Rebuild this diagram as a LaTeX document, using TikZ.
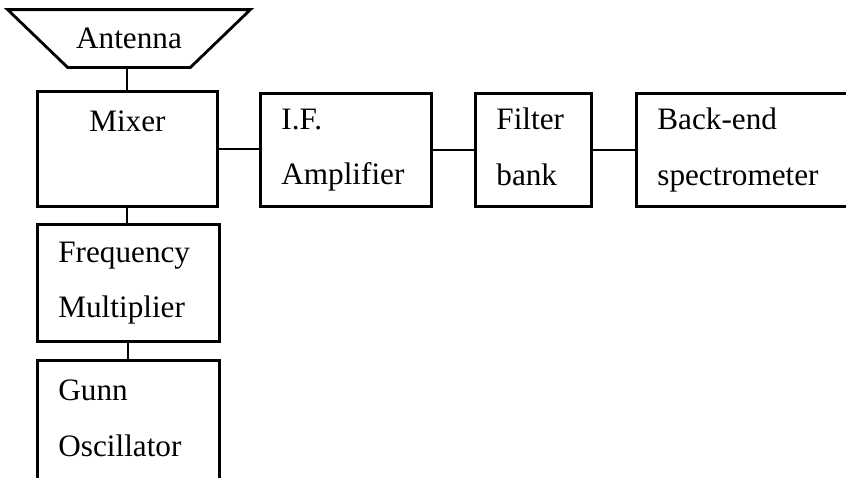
\documentclass[tikz,border=0pt]{standalone}
\usepackage{fontspec}
\setmainfont{Liberation Serif}

\newcommand{\lowfix}{\vphantom{p}}

\begin{document}
\begin{tikzpicture}[x=0.5pt,y=-0.5pt,
  every node/.style={font=\fontsize{15.6}{27.75}\selectfont},
  blk/.style={draw,line width=1.4pt,rectangle,inner xsep=10.5pt,inner ysep=0pt,align=left,anchor=north west},
  wire/.style={line width=1pt}]
\useasboundingbox (0,0) rectangle (846,477);
\clip (0,0) rectangle (846,477);

% antenna dish
\node[minimum width=121pt,minimum height=28.5pt,inner sep=0pt] (antenna) at (129,38.5) {Antenna};
\draw[line width=1.4pt,line join=miter] (antenna.north west) -- (antenna.north east)
  -- ([xshift=-30pt]antenna.south east) -- ([xshift=30pt]antenna.south west) -- cycle;

\node[blk,align=center,text width=69pt,minimum height=57.5pt] (mixer) at (36,90) {Mixer\\ \mbox{}};
\node[blk,text width=64.5pt,minimum height=56.5pt] (ifamp) at (259,92) {I.F.\\ Amplifier\lowfix};
\node[blk,text width=37pt,minimum height=56.5pt] (filter) at (474,92) {Filter\\ bank\lowfix};
\node[blk,text width=110pt,minimum height=56.5pt] (backend) at (635,92) {Back-end\\ spectrometer\lowfix};

\node[blk,text width=70pt,minimum height=58.5pt] (freqmult) at (36,223) {Frequency\\ Multiplier\lowfix};
\node[blk,text width=70pt,minimum height=61pt] (gunn) at (36,359) {Gunn\\ Oscillator\lowfix};

\draw[wire] (antenna.south) -- (mixer.north |- antenna.south) -- (mixer.north);
\draw[wire] (mixer.east) -- (mixer.east -| ifamp.west);
\draw[wire] (ifamp.east) -- (filter.west);
\draw[wire] (filter.east) -- (backend.west);
\draw[wire] (mixer.south) -- (mixer.south |- freqmult.north);
\draw[wire] (freqmult.south) -- (freqmult.south |- gunn.north);

\end{tikzpicture}
\end{document}
